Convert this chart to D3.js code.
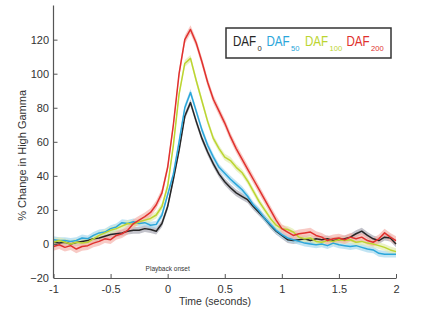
<!DOCTYPE html>
<html>
<head>
<meta charset="utf-8">
<script src="https://cdn.jsdelivr.net/npm/d3@7"></script>
<style>
  body { margin: 0; background: #fff; }
  text { font-family: "Liberation Sans", Arial, sans-serif; }
</style>
</head>
<body>
<div id="chart"></div>
<script>
// time points (seconds)
const times = [-1, -0.95, -0.9, -0.85, -0.8, -0.75, -0.7, -0.65, -0.6, -0.55, -0.5, -0.45, -0.4, -0.35, -0.3, -0.25, -0.2, -0.15, -0.1, -0.05,
  0, 0.05, 0.1, 0.15, 0.2, 0.25, 0.3, 0.35, 0.4, 0.45, 0.5, 0.55, 0.6, 0.65, 0.7, 0.75, 0.8, 0.85, 0.9, 0.95,
  1, 1.05, 1.1, 1.15, 1.2, 1.25, 1.3, 1.35, 1.4, 1.45, 1.5, 1.55, 1.6, 1.65, 1.7, 1.75, 1.8, 1.85, 1.9, 1.95, 2];

// % change in high gamma per condition
const daf0 = [1, 0.5, 1, 0, 0.8, 1.5, 2, 3, 3.5, 4.5, 5.5, 6, 6.5, 7.5, 8, 8, 9, 8.5, 7.5, 12,
  22, 38, 55, 75, 83, 72, 62, 54, 47, 41, 36.5, 33, 30, 28, 26, 22, 18.5, 15, 11, 7.5,
  5, 2.5, 2, 2.5, 3, 2, 3, 2.5, 3, 2, 2.5, 3, 4, 6, 7.5, 5, 3, 2, 4, 3.5, 0];
const daf50 = [2.5, 2, 2, 1.5, 2, 3.5, 3, 5, 6.5, 7, 9, 10, 12.5, 12, 13, 12, 12.5, 11, 11.5, 17,
  29, 41, 60, 80, 89, 78, 67, 58, 51, 45, 41.5, 38, 35, 32, 28, 23, 19.5, 15, 11.5, 8,
  5.5, 3.5, 2.5, 1.5, 0.5, 0, -0.5, 0, -1, 0.5, -0.5, -1, -1.5, -1, -2, -3, -3.5, -5.5, -6, -6, -6];
const daf100 = [1, 2, 1, 0, 1, 0.5, 1, 3, 5, 6.5, 8, 9, 10.5, 12, 11.5, 13, 14, 15, 17, 22,
  34, 58, 88, 106, 109, 96, 84, 72, 62, 56, 51, 49, 45, 42, 37, 31, 25, 20, 15, 11,
  9, 8.5, 7, 4, 3, 3.5, 1.5, 1, 2, 1.5, 2.5, 2, 2.5, 1, 1.5, 0.5, 0, -1, -2, -3.5, -4.5];
const daf200 = [-1.5, -0.5, -2, -1, -3, -1.5, -1, 0.5, 1.5, 3, 2.5, 5, 6, 8, 12, 14, 16, 18.5, 23, 30,
  45, 70, 100, 120, 126, 118, 107, 95, 85, 78, 71, 63, 56, 50, 44, 38, 32, 26, 20, 14,
  9, 7, 5, 6, 6.5, 7, 5, 4, 2, 3, 3.5, 2.5, 4, 3, 4, 2, 1, 3, 6.5, 4, 2];

// standard error (band half width)
const sems = [2, 2, 2, 2.5];

const seriesNames = ["0", "50", "100", "200"];
const seriesValues = [daf0, daf50, daf100, daf200];
const lineColors = ["#262626", "#2ba6da", "#bcd531", "#e0312e"];
const bandColors = ["#a8a8b4", "#a6d8ee", "#e2edb0", "#f5b4ac"];

const yTicks = [-20, 0, 20, 40, 60, 80, 100, 120];
const xTicks = [-1, -0.5, 0, 0.5, 1, 1.5, 2];

const W = 426, H = 326;
const svg = d3.select("#chart").append("svg")
  .attr("width", W).attr("height", H);

const x = d3.scaleLinear().domain([-1, 2]).range([53.5, 396]);
const y = d3.scaleLinear().domain([-20, 140]).range([278, 5.6]);

// bands then lines
const area = d3.area()
  .x(d => x(d.t))
  .y0(d => y(d.v - d.e))
  .y1(d => y(d.v + d.e));
const line = d3.line()
  .x(d => x(d.t))
  .y(d => y(d.v));

const series = seriesValues.map((vals, i) =>
  vals.map((v, j) => ({ t: times[j], v, e: sems[i] })));

svg.append("g").selectAll("path")
  .data(series)
  .enter().append("path")
    .attr("d", area)
    .attr("fill", (d, i) => bandColors[i])
    .attr("opacity", 0.7);

svg.append("g").selectAll("path")
  .data(series)
  .enter().append("path")
    .attr("d", line)
    .attr("fill", "none")
    .attr("stroke", (d, i) => lineColors[i])
    .attr("stroke-width", 1.5)
    .attr("stroke-linejoin", "round");

// axes
const axisColor = "#555";
const gy = svg.append("g")
  .attr("transform", `translate(${x(-1)},0)`)
  .call(d3.axisLeft(y).tickValues(yTicks).tickSize(-4).tickPadding(4.5).tickSizeOuter(0));
const gx = svg.append("g")
  .attr("transform", `translate(0,${y(-20)})`)
  .call(d3.axisBottom(x).tickValues(xTicks).tickSize(-4).tickPadding(7).tickSizeOuter(0)
    .tickFormat(d => String(d)));

[gy, gx].forEach(g => {
  g.select(".domain").attr("stroke", axisColor).attr("stroke-width", 1.2);
  g.selectAll(".tick line").attr("stroke", axisColor);
  g.selectAll(".tick text")
    .attr("fill", "#333")
    .style("font-size", "11px")
    .style("font-family", "'Liberation Sans', Arial, sans-serif");
});
gy.select(".domain").attr("d", `M0,${y(140)}V${y(-20)}`);

// axis titles
svg.append("text")
  .attr("x", 215).attr("y", 305)
  .attr("text-anchor", "middle")
  .attr("fill", "#333")
  .style("font-size", "10.5px")
  .text("Time (seconds)");

svg.append("text")
  .attr("transform", `translate(26,${y(52)}) rotate(-90)`)
  .attr("text-anchor", "middle")
  .attr("fill", "#333")
  .style("font-size", "11px")
  .text("% Change in High Gamma");

svg.append("text")
  .attr("x", x(0)).attr("y", 271)
  .attr("text-anchor", "middle")
  .attr("fill", "#333")
  .style("font-size", "6.5px")
  .text("Playback onset");

// legend
const legend = svg.append("g");
legend.append("rect")
  .attr("x", 226).attr("y", 28)
  .attr("width", 165).attr("height", 30)
  .attr("fill", "#fff")
  .attr("stroke", "#333")
  .attr("stroke-width", 1.5);

// glyphs in the legend are narrower than normal, so squeeze them horizontally
const legX = [233, 266.5, 305, 346.5];
seriesNames.forEach((name, i) => {
  legend.append("text")
    .attr("transform", `translate(${legX[i]},46) scale(0.8,1)`)
    .attr("fill", lineColors[i])
    .style("font-size", "14.5px")
    .text("DAF");
  legend.append("text")
    .attr("transform", `translate(${legX[i] + 24.5},50.5) scale(0.95,1)`)
    .attr("fill", lineColors[i])
    .style("font-size", "8px")
    .text(name);
});
</script>
</body>
</html>
